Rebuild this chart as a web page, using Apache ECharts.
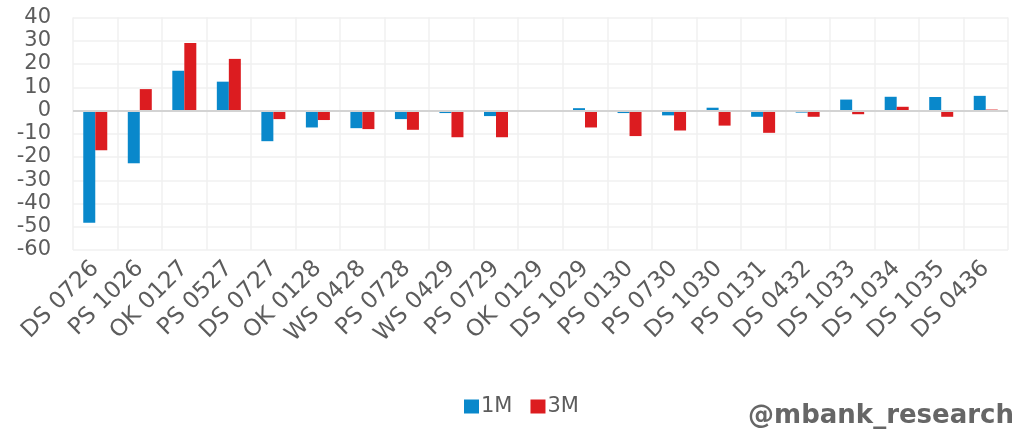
<!DOCTYPE html>
<html>
<head>
<meta charset="utf-8">
<script src="https://cdn.jsdelivr.net/npm/echarts@6/dist/echarts.min.js"></script>
<style>
html,body{margin:0;padding:0;background:#fff;}
#chart{width:1017px;height:433px;}
</style>
</head>
<body>
<div id="chart"></div>
<script>
var categories = ['DS 0726','PS 1026','OK 0127','PS 0527','DS 0727','OK 0128','WS 0428','PS 0728','WS 0429','PS 0729','OK 0129','DS 1029','PS 0130','PS 0730','DS 1030','PS 0131','DS 0432','DS 1033','DS 1034','DS 1035','DS 0436'];
var series1M = [-48.3,-22.7,17.1,12.4,-13.2,-7.3,-7.6,-3.7,-1.1,-2.4,0,1.0,-1.1,-2.1,1.2,-2.7,-0.9,4.7,5.9,5.8,6.3];
var series3M = [-17.1,9.2,29.0,22.2,-3.7,-4.1,-8.0,-8.3,-11.5,-11.5,0,-7.3,-11.0,-8.6,-6.5,-9.6,-2.7,-1.6,1.6,-2.7,0.4];
var yTicks = {min:-60, max:40, interval:10};
var seriesNames = ['1M','3M'];
var watermark = '@mbank_research';

var font = 'DejaVu Sans';
var chart = echarts.init(document.getElementById('chart'));
chart.setOption({
  animation:false,
  backgroundColor:'#fff',
  grid:{left:73, right:9, top:17.5, bottom:183, containLabel:false},
  legend:{
    data:seriesNames, left:459, top:391, itemWidth:15, itemHeight:14, itemGap:18,
    icon:'rect',
    textStyle:{fontFamily:font, fontSize:21, color:'#5c5c5c', padding:[0,0,0,-3]}
  },
  xAxis:{
    type:'category', data:categories,
    axisLine:{show:false}, axisTick:{show:false},
    splitLine:{show:true, interval:0, lineStyle:{color:'#f0f0f0', width:1.5}},
    axisLabel:{interval:0, rotate:45, margin:15, fontFamily:font, fontSize:23, color:'#5c5c5c'}
  },
  yAxis:{
    type:'value', min:yTicks.min, max:yTicks.max, interval:yTicks.interval,
    axisLine:{show:false}, axisTick:{show:false},
    splitLine:{lineStyle:{color:'#f0f0f0', width:1.5}},
    axisLabel:{margin:22, fontFamily:font, fontSize:21, color:'#5c5c5c'}
  },
  series:[
    {name:seriesNames[0], type:'bar', data:series1M, barWidth:12, barGap:'0%',
     itemStyle:{color:'#0988cb'},
     markLine:{silent:true, symbol:'none', label:{show:false},
       lineStyle:{color:'#d3d3d3', width:2, type:'solid'}, data:[{yAxis:0}]}},
    {name:seriesNames[1], type:'bar', data:series3M, barWidth:12, barGap:'0%',
     itemStyle:{color:'#dc1c20'}}
  ],
  graphic:[{type:'text', right:3, top:403,
    style:{text:watermark, fontFamily:font, fontWeight:'bold', fontSize:26, fill:'#666666'}}]
});
</script>
</body>
</html>
